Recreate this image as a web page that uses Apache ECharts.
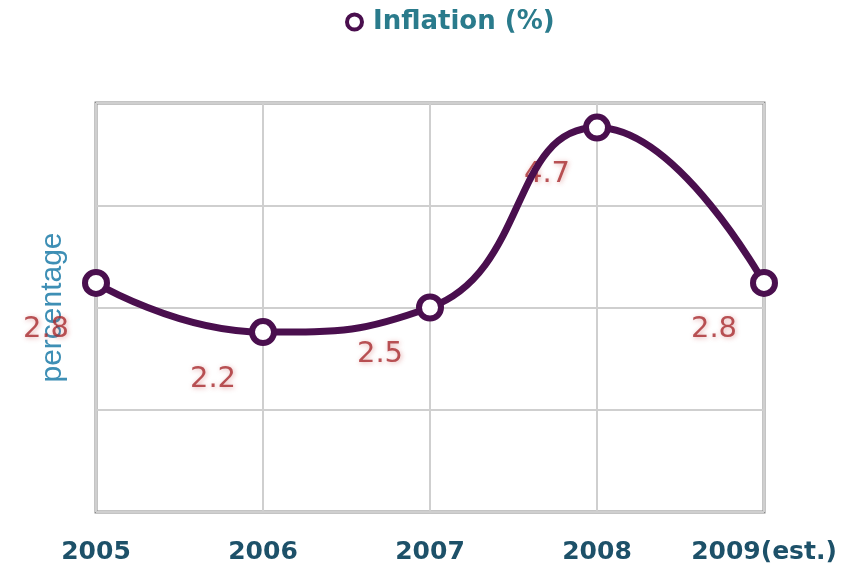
<!DOCTYPE html>
<html>
<head>
<meta charset="utf-8">
<script src="https://cdn.jsdelivr.net/npm/echarts@6/dist/echarts.min.js"></script>
<style>
html,body{margin:0;padding:0;background:#fff;}
#chart{width:854px;height:569px;}
</style>
</head>
<body>
<div id="chart"></div>
<script>
// Annual inflation, percent
const years = ['2005', '2006', '2007', '2008', '2009(est.)'];
const inflation = [2.8, 2.2, 2.5, 4.7, 2.8];
const seriesName = 'Inflation (%)';
const yAxisTitle = 'percentage';

const chart = echarts.init(document.getElementById('chart'), null, { renderer: 'canvas' });

const lineColor = '#4a0f4e';
const boldFont = 'DejaVu Sans, Verdana, sans-serif';

chart.setOption({
  backgroundColor: '#ffffff',
  animation: false,
  legend: {
    data: [{ name: seriesName, icon: 'circle' }],
    top: 4,
    left: 340,
    itemWidth: 15,
    itemHeight: 15,
    itemGap: 10,
    itemStyle: { color: '#ffffff', borderColor: lineColor, borderWidth: 4 },
    lineStyle: { width: 0, opacity: 0 },
    textStyle: { color: '#2a7b8c', fontSize: 26, fontWeight: 'bold', fontFamily: boldFont, padding: [0, 0, 0, 6] }
  },
  grid: {
    left: 96, right: 90, top: 103, bottom: 57,
    show: true, borderColor: '#8a8a8a', borderWidth: 3, backgroundColor: 'transparent'
  },
  xAxis: {
    type: 'category',
    data: years,
    boundaryGap: false,
    axisLine: { show: false },
    axisTick: { show: false, interval: 0 },
    axisLabel: {
      interval: 0,
      color: '#1d5169', fontSize: 25, fontWeight: 'bold', margin: 28,
      fontFamily: boldFont
    },
    splitLine: { show: true, interval: 0, lineStyle: { color: '#cfcfcf', width: 2 } }
  },
  yAxis: {
    type: 'value',
    min: 0, max: 5, interval: 1.25,
    name: yAxisTitle,
    nameLocation: 'middle',
    nameGap: 28,
    nameTextStyle: { color: '#3e8fb5', fontSize: 30, fontFamily: 'Liberation Sans, Arial, sans-serif' },
    axisLine: { show: false },
    axisTick: { show: false },
    axisLabel: { show: false },
    splitLine: { show: true, lineStyle: { color: '#cfcfcf', width: 2 } }
  },
  series: [
    {
      // value labels, drawn beneath the line
      type: 'scatter',
      data: inflation,
      symbolSize: 0,
      silent: true,
      z: 1,
      label: {
        show: true,
        position: 'inside',
        offset: [-50, 47],
        color: '#a82a2e',
        fontSize: 29,
        fontFamily: boldFont,
        textShadowColor: 'rgba(190,50,50,0.5)',
        textShadowBlur: 5,
        textShadowOffsetX: 1,
        textShadowOffsetY: 1
      }
    },
    {
      name: seriesName,
      type: 'line',
      data: inflation,
      smooth: 0.5,
      z: 3,
      symbol: 'circle',
      symbolSize: 22,
      itemStyle: { color: '#ffffff', borderColor: lineColor, borderWidth: 6 },
      lineStyle: { color: lineColor, width: 7 },
      label: { show: false }
    }
  ]
});
</script>
</body>
</html>
